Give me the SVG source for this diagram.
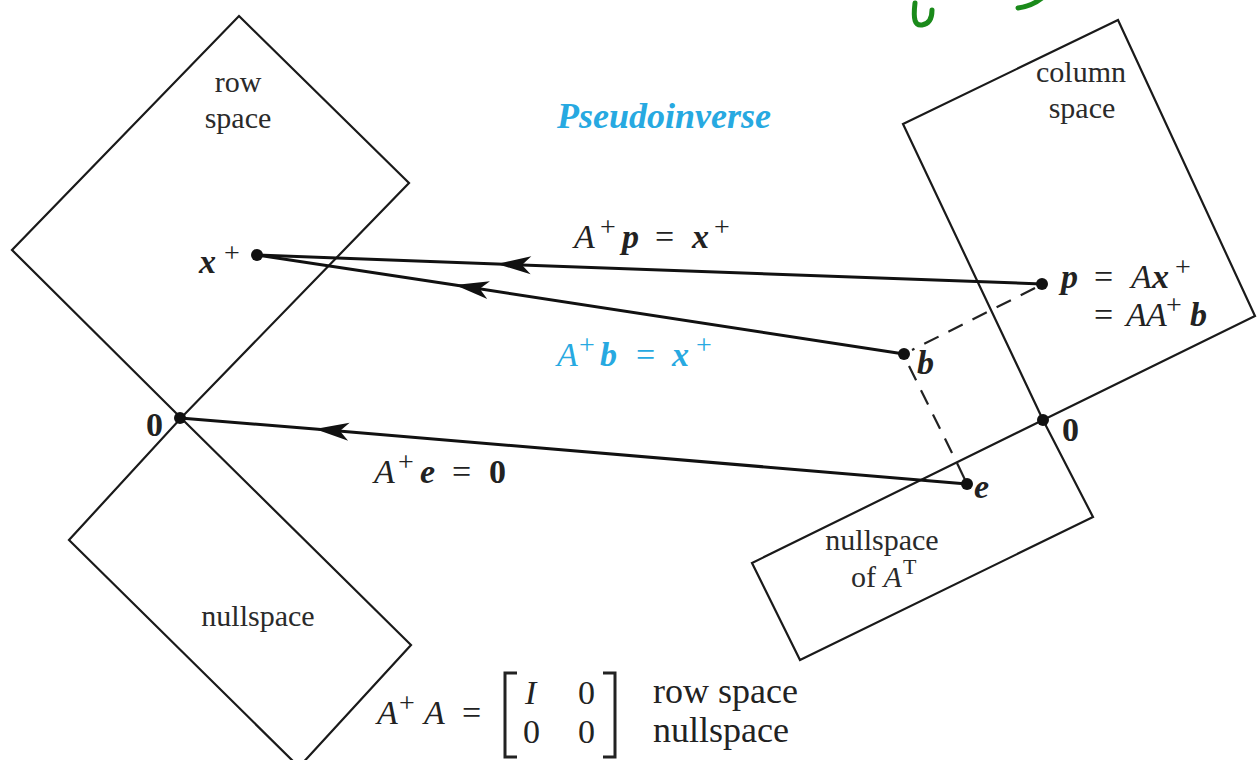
<svg xmlns="http://www.w3.org/2000/svg" width="1257" height="760" viewBox="0 0 1257 760">
<defs>
<marker id="ah" markerUnits="userSpaceOnUse" viewBox="-36 -10 38 20" refX="0" refY="0" markerWidth="38" markerHeight="20" orient="auto">
<path d="M0,0 L-34,-9 L-25,0 L-34,9 Z" fill="#111"/>
</marker>
</defs>
<style>
.box{fill:none;stroke:#1a1a1a;stroke-width:2.2;stroke-linejoin:miter}
.conn{fill:none;stroke:#111;stroke-width:3;marker-mid:url(#ah)}
.dash{fill:none;stroke:#222;stroke-width:2.2;stroke-dasharray:16 11}
.lbl{font-family:"Liberation Serif",serif;font-size:30px;fill:#2a2a2a;text-anchor:middle}
.m{font-family:"Liberation Serif",serif;font-size:34px;fill:#222}
.bi{font-weight:bold;font-style:italic}
.it{font-style:italic}
.b{font-weight:bold}
.sup{font-size:28px}
.dot{fill:#111}
.blue{fill:#27a9e1}
.green{fill:none;stroke:#1a8a1a;stroke-width:5;stroke-linecap:round}
</style>
<rect width="1257" height="760" fill="#fff"/>

<g id="row-space">
<polygon class="box" points="239,16 409,183 181,418 12,250"/>
<text class="lbl" x="238" y="92">row</text>
<text class="lbl" x="238" y="128">space</text>
</g>

<g id="nullspace">
<polygon class="box" points="181,418 411,645 299,767 69,540"/>
<text class="lbl" x="258" y="626">nullspace</text>
</g>

<g id="column-space">
<polygon class="box" points="903,124 1118,20 1255,316 1043,420"/>
<text class="lbl" x="1081" y="82">column</text>
<text class="lbl" x="1082" y="118">space</text>
</g>

<g id="left-nullspace">
<polygon class="box" points="1043,420 1093,517 800,660 752,563"/>
<text class="lbl" x="882" y="550">nullspace</text>
<text class="lbl" style="text-anchor:start" x="851" y="587">of <tspan class="it">A</tspan><tspan x="903" y="574" style="font-size:22px">T</tspan></text>
</g>

<g id="title">
<text x="664" y="128" font-family="Liberation Serif, serif" font-size="36" font-weight="bold" font-style="italic" fill="#27a9e1" text-anchor="middle">Pseudoinverse</text>
</g>

<g id="connectors">
<polyline class="conn" points="1042,284 497,264 257,255"/>
<polyline class="conn" points="904,354 455,285 257,255"/>
<polyline class="conn" points="967,484 315,429 180,418"/>
<line class="dash" x1="1035" y1="288" x2="912" y2="350"/>
<line class="dash" x1="909" y1="366" x2="957" y2="463"/>
<line x1="957" y1="463" x2="967" y2="484" stroke="#222" stroke-width="2.2"/>
</g>

<g id="points">
<circle class="dot" cx="257" cy="255" r="6"/>
<circle class="dot" cx="1042" cy="284" r="6"/>
<circle class="dot" cx="904" cy="354" r="6"/>
<circle class="dot" cx="967" cy="484" r="6"/>
<circle class="dot" cx="180" cy="418" r="6"/>
<circle class="dot" cx="1043" cy="420" r="6"/>
</g>

<g id="point-labels">
<text class="m" y="273"><tspan class="bi" x="199">x</tspan><tspan class="sup" x="224" y="262">+</tspan></text>
<text class="m b" x="146" y="436">0</text>
<text class="m b" x="1062" y="441">0</text>
<text class="m bi" x="917" y="374">b</text>
<text class="m bi" x="974" y="498">e</text>
<text class="m" y="288"><tspan class="bi" x="1061">p</tspan><tspan x="1094">=</tspan><tspan class="it" x="1131">A</tspan><tspan class="bi" x="1152">x</tspan><tspan class="sup" x="1175" y="276">+</tspan></text>
<text class="m" y="326"><tspan x="1094">=</tspan><tspan class="it" x="1126">A</tspan><tspan class="it" x="1146">A</tspan><tspan class="sup" x="1166" y="314">+</tspan><tspan class="bi" x="1190" y="326">b</tspan></text>
</g>

<g id="edge-labels">
<text class="m" y="248"><tspan class="it" x="574">A</tspan><tspan class="sup" x="600" y="236">+</tspan><tspan class="bi" x="622" y="248">p</tspan><tspan x="655">=</tspan><tspan class="bi" x="692">x</tspan><tspan class="sup" x="714" y="236">+</tspan></text>
<text class="m blue" y="366"><tspan class="it" x="557">A</tspan><tspan class="sup" x="579" y="354">+</tspan><tspan class="bi" x="600" y="366">b</tspan><tspan x="636">=</tspan><tspan class="bi" x="672">x</tspan><tspan class="sup" x="696" y="354">+</tspan></text>
<text class="m" y="483"><tspan class="it" x="374">A</tspan><tspan class="sup" x="398" y="471">+</tspan><tspan class="bi" x="420" y="483">e</tspan><tspan x="452">=</tspan><tspan class="b" x="489">0</tspan></text>
</g>

<g id="matrix">
<text class="m" y="724"><tspan class="it" x="377">A</tspan><tspan class="sup" x="399" y="712">+</tspan><tspan class="it" x="424" y="724">A</tspan><tspan x="462">=</tspan></text>
<path d="M517,673 H505 V757 H517 M603,673 H615 V757 H603" fill="none" stroke="#222" stroke-width="3"/>
<text class="m" y="704"><tspan class="it" x="525">I</tspan><tspan x="578">0</tspan></text>
<text class="m" y="743"><tspan x="523">0</tspan><tspan x="578">0</tspan></text>
<text class="m" style="font-size:36px" x="653" y="703">row space</text>
<text class="m" style="font-size:36px" x="653" y="742">nullspace</text>
</g>

<g id="green-marks">
<path class="green" d="M915,3 C913,20 915,26 922,25 C929,24 932,18 932,10"/>
<path class="green" d="M1018,8 Q1032,6 1042,-2"/>
</g>
</svg>
